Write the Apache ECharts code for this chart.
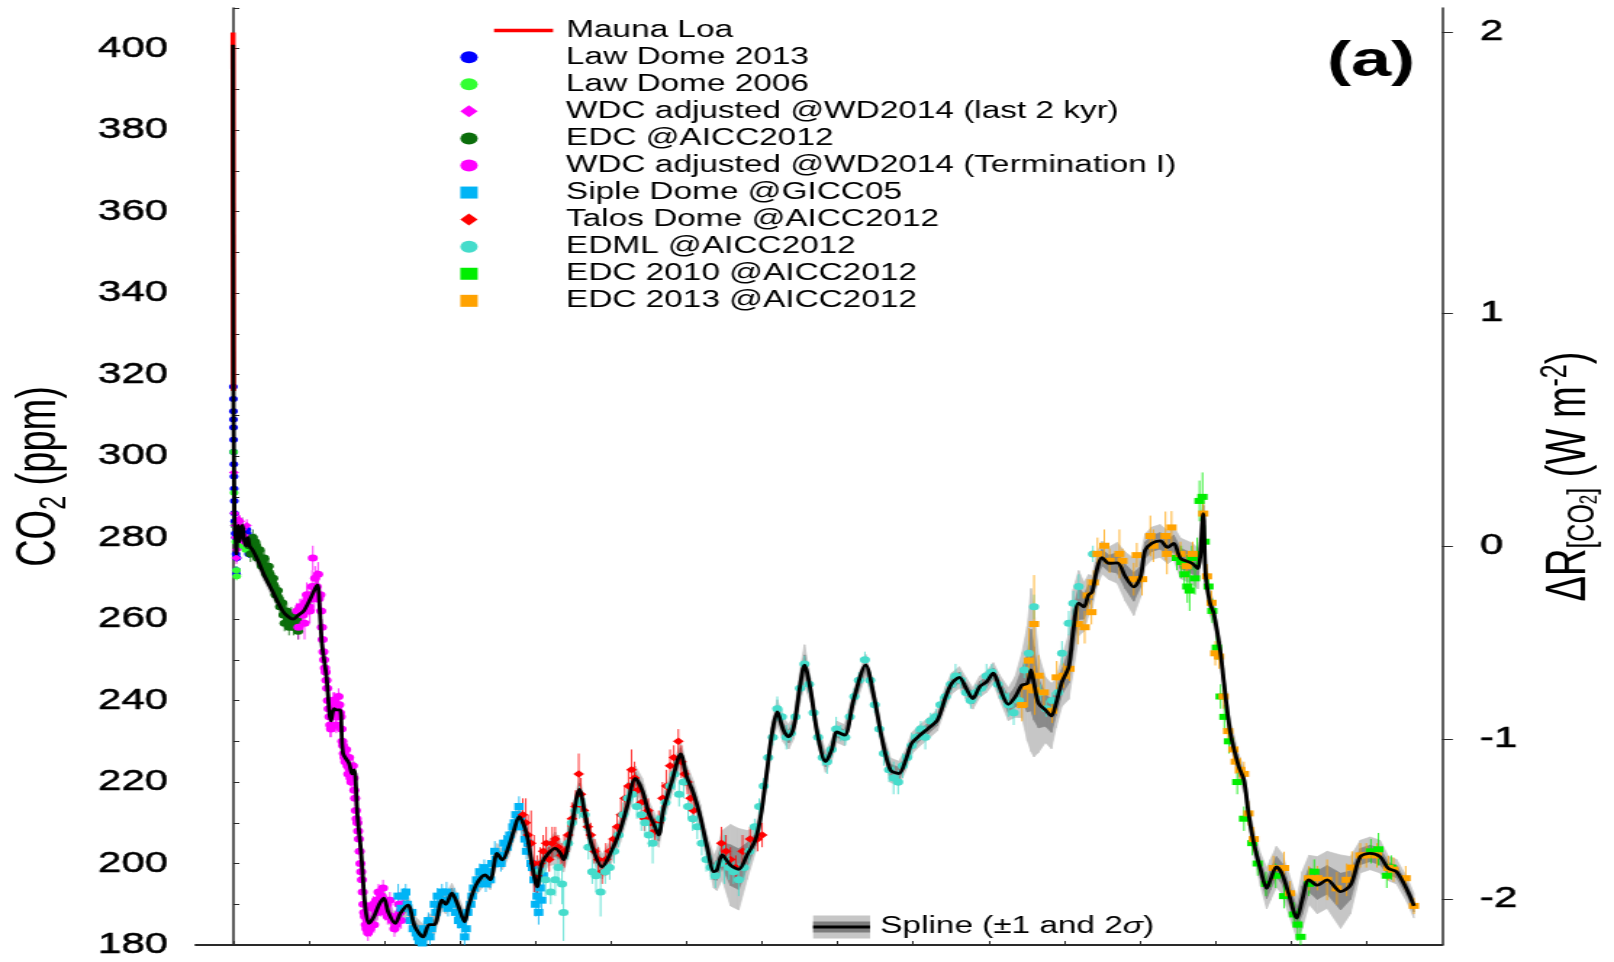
<!DOCTYPE html>
<html>
<head>
<meta charset="utf-8">
<script src="https://cdn.jsdelivr.net/npm/echarts@6/dist/echarts.min.js"></script>
<style>
html,body{margin:0;padding:0;background:#fff;overflow:hidden;}
#main{width:1113px;height:962px;transform:scaleX(1.45013);transform-origin:0 0;}
</style>
</head>
<body>
<div id="main"></div>
<script>
// ---------------- DATA (time in kyr BP, CO2 in ppm, third value = 1-sigma error) ----------------
const xTickValues = [0,10,20,30,40,50,60,70,80,90,100,110,120,130,140,150];
const rightTickLabels = [-2,-1,0,1,2];           // Delta R [W m-2]
const C0 = 278;                                   // reference CO2 of the right axis

const maunaLoa = [[-0.009,316],[-0.015,320],[-0.02,325.7],[-0.025,331],[-0.03,338.7],[-0.035,346],[-0.04,354.4],[-0.045,361],[-0.05,369.7],[-0.055,379.8],[-0.06,389.9],[-0.066,404]];

const lawDome2013 = [[-0.028,317,0.5],[-0.02,314,0.5],[-0.012,311,0.6],[-0.005,309,0.6],[0.0,307,0.6],[0.01,304,0.8],[0.02,301,0.8],[0.04,298,0.8],[0.06,295,0.9],[0.08,292,0.9],[0.1,289,1],[0.12,286,1],[0.15,284,1],[0.18,283,1],[0.22,281,1],[0.28,280,1],[0.33,276,1],[0.37,272,1],[0.4,271,1],[0.45,275,1],[0.5,279,1],[0.6,281,1],[0.7,280,1],[0.8,279,1],[0.9,279,1],[1.0,280,1],[1.1,279,1],[1.3,278,1],[1.5,278,1],[1.7,279,1],[1.75,282,1],[1.82,281,1],[1.9,277,1],[2.0,276,1]];

const lawDome2006 = [[0.02,301,1],[0.08,291,1],[0.16,283,1],[0.3,279,1],[0.38,272,1],[0.42,270.5,1],[0.6,280,1],[0.9,278,1],[1.2,279,1],[1.6,277,1],[1.85,280,1]];

const wdcLast2k = [[0.05,296,1.5],[0.12,286,1.5],[0.2,283,1.5],[0.3,280,1.5],[0.38,275,1.5],[0.45,277,1.5],[0.55,280,1.5],[0.65,284.5,1.5],[0.75,283,1.5],[0.85,284,1.5],[0.95,282,1.5],[1.05,281,1.5],[1.15,282,1.5],[1.25,280,1.5],[1.35,279,1.5],[1.45,280,1.5],[1.55,279,1.5],[1.65,280,1.5],[1.75,283,1.5],[1.85,280,1.5],[1.95,278,1.5]];

const edc = [[2.1,278,1.5],[2.25,276,2],[2.4,279,1.5],[2.55,280,2],[2.7,277,1.5],[2.85,279,2],[3.0,278,1.5],[3.15,275,2],[3.3,276,1.5],[3.45,277,2],[3.6,275,1.5],[3.75,273,2],[3.9,274,1.5],[4.05,275,2],[4.2,273,1.5],[4.35,271,2],[4.5,272,1.5],[4.65,273,2],[4.8,271,1.5],[4.95,270,2],[5.1,269,1.5],[5.25,270,2],[5.4,268,1.5],[5.55,266,2],[5.7,266,1.5],[5.85,267,2],[6.0,265,1.5],[6.15,263,2],[6.3,263,1.5],[6.45,264,2],[6.6,261,1.5],[6.75,259,2],[6.9,261,1.5],[7.05,262,2],[7.2,260,1.5],[7.35,258,2],[7.5,259,1.5],[7.65,261,2],[7.8,260,1.5],[7.95,258,2],[8.1,258,1.5],[8.25,261,2],[8.4,260,1.5],[8.55,257,2],[8.7,259,1.5]];

const wdcTI = [[8.4,262,2],[8.6,258,3],[8.8,263,2],[9.0,262,3],[9.2,261,3],[9.4,259,4],[9.5,264,2],[9.7,266,3],[9.8,265,3],[10.0,263,2],[10.1,262,3],[10.3,266,2],[10.4,268,4],[10.5,275,3],[10.7,265,3],[10.8,270,3],[11.0,268,4],[11.2,271,3],[11.3,265,3],[11.5,266,2],[11.6,262,2],[11.7,258,2],[11.8,255,2],[11.9,252,2],[12.0,250,3],[12.1,248,2],[12.2,247,2],[12.3,245,2],[12.4,243,2],[12.5,240,3],[12.6,238,2],[12.7,236,2],[12.8,234,3],[12.9,233,2],[13.0,236,2],[13.1,238,3],[13.2,240,2],[13.3,240,2],[13.4,239,3],[13.5,236,3],[13.6,234,2],[13.7,238,2],[13.8,237,2],[13.9,241,2],[14.0,239,3],[14.1,237,2],[14.2,236,2],[14.3,233,3],[14.4,230,2],[14.5,229,2],[14.6,227,2],[14.7,226,2],[14.8,225,2],[14.9,228,2],[15.0,226,2],[15.1,224,2],[15.2,222,2],[15.3,226,2],[15.4,223,2],[15.5,221,2],[15.6,220,2],[15.7,222,2],[15.8,224,2],[15.9,221,3],[16.0,218,2],[16.1,216,2],[16.2,213,2],[16.3,211,2],[16.4,210,2],[16.5,208,2],[16.6,206,2],[16.7,203,2],[16.8,200,2],[16.9,198,2],[17.0,196,2],[17.1,193,2],[17.2,190,2],[17.3,188,2],[17.4,187,2],[17.5,185,2],[17.6,184,2],[17.7,186,2],[17.8,183,2],[18.0,186,2],[18.1,184,2],[18.3,189,2],[18.5,190,2],[18.6,185,2],[18.9,191,2],[19.0,188,2],[19.2,193,2],[19.5,189,2],[19.6,192,2],[19.8,194,2],[20.1,188,2],[20.3,190,2],[20.4,187,2],[20.7,191,2],[20.9,187,3],[21.0,186,2],[21.3,184,2],[21.5,185,2],[21.6,187,2],[21.9,190,3],[22.0,188,2],[22.2,186,2],[22.4,190,2]];

const siple = [[21.8,192,3],[22.2,189,2],[22.6,192,2],[22.8,193,2],[23.0,190,2],[23.4,186,2],[23.6,188,2],[23.8,184,2],[24.2,183,2],[24.4,182,2],[24.6,181,2],[25.0,180.5,2],[25.2,184,2],[25.4,183,2],[25.8,186,2],[26.0,182,2],[26.2,184,2],[26.6,190,2],[26.8,188,2],[27.0,192,2],[27.4,190,2],[27.6,193,2],[27.8,191,2],[28.2,193,2.5],[28.4,189,2],[28.6,191,2],[29.0,190,2],[29.2,192,2],[29.4,188,2],[29.8,186,2],[30.0,187,2],[30.2,185,2],[30.6,182,2.5],[30.8,184,2],[31.0,188,2],[31.4,190,2],[31.6,192,2],[31.8,194,2],[32.2,196,2],[32.4,195,2],[32.6,198,2],[33.0,197,2],[33.2,199,2],[33.4,195,2],[33.8,198,2],[34.0,196,2],[34.2,200,2],[34.6,203,2.5],[34.8,201,2],[35.0,201,2],[35.4,200,2],[35.6,202,2],[35.8,205,2],[36.2,204,2],[36.4,206,2],[36.6,207,2],[37.0,209,2],[37.2,210,2],[37.4,212,2.5],[37.8,214,2.5],[38.0,211,2],[38.2,209,2],[38.6,206,2],[38.8,203,2],[39.0,205,2],[39.4,200,2],[39.6,199,2],[39.8,196,3],[40.0,190,3],[40.2,192,3],[40.4,188,3],[40.6,194,3],[40.8,191,3],[41.0,197,3]];

const talos = [[38.3,212,4],[38.7,210,6],[39.0,207,5],[39.4,205,8],[39.8,200,7],[40.2,197,5],[40.6,200,4],[41.0,203,4],[41.4,205,4],[41.8,201,3],[42.2,205,4],[42.6,206,3],[43.0,204,3],[43.4,202,3],[43.8,203,4],[44.3,207,3],[44.8,211,4],[45.3,214,4],[45.7,222,5],[46.0,217,4],[46.4,213,3],[46.9,209,3],[47.3,207,3],[47.8,203,3],[48.3,201,3],[48.8,198,3],[49.3,201,4],[49.8,203,3],[50.3,206,3],[50.8,209,3],[51.3,212,4],[51.8,216,3],[52.3,219,4],[52.7,223,5],[53.1,221,4],[53.5,218,3],[54.0,215,3],[54.4,211,3],[54.9,213,3],[55.3,210,3],[55.8,208,3],[56.3,210,3],[56.8,216,4],[57.3,219,4],[57.8,224,4],[58.3,226,3],[58.9,230,3],[59.3,225,4],[59.7,222,3],[60.1,220,3],[60.5,216,3],[60.9,213,3],[64.6,205,4],[65.2,203,4],[65.8,201,3],[66.5,199,3],[67.4,203,4],[68.4,206,3],[69.4,206,3],[70.0,207,3]];

const edml = [[40.5,198,3],[41.3,196,4],[42.0,193,3],[42.6,196,4],[43.0,199,3],[43.5,195,5],[43.7,188,7],[44.3,205,4],[44.8,210,3],[45.3,213,3],[45.8,215,4],[46.5,212,4],[47.0,204,3],[47.5,198,3],[48.0,197,4],[48.6,193,6],[49.2,198,3],[49.8,199,3],[50.4,203,3],[51.0,207,3],[51.6,212,3],[52.2,216,4],[52.8,217,3],[53.4,214,3],[54.0,212,4],[54.5,210,3],[55.0,207,3],[55.5,205,5],[56.1,209,3],[56.6,211,3],[57.2,215,3],[57.8,219,3],[58.4,222,4],[59.0,217,3],[59.6,220,4],[60.2,214,3],[60.8,211,3],[61.4,209,3],[62.0,205,3],[62.6,201,3],[63.2,199,3],[63.8,197,3],[64.4,200,3],[65.0,201,6],[65.6,199,3],[66.2,198,3],[66.9,196,4],[67.6,199,3],[68.3,203,3],[69.0,209,2],[69.6,214,2],[70.2,219,2],[70.8,226,2],[71.4,231,2],[72.0,238,3],[72.6,236,2],[73.2,231,3],[73.8,232,2],[74.4,236,2],[75.0,243,2],[75.6,249,2],[76.2,244,2],[76.8,237,2],[77.4,231,2],[78.0,226,2],[78.6,225,3],[79.2,228,2],[79.8,233,3],[80.4,232,2],[81.0,231,2],[81.6,236,2],[82.2,241,2],[82.8,245,2],[83.6,250,2],[84.3,245,2],[84.9,239,2],[85.5,233,2],[86.1,227,3],[86.8,223,3],[87.4,221,4],[88.0,220,3],[88.6,224,3],[89.2,226,2],[89.8,229,3],[90.4,231,2],[91.0,233,2],[91.6,231,3],[92.3,235,2],[93.0,236,2],[93.6,239,2],[94.3,241,2],[95.0,244,2],[95.6,246,3],[96.3,245,2],[97.0,242,2],[97.6,240,2],[98.3,242,2],[99.0,243,2],[99.7,246,3],[100.4,247,2],[101.2,244,2],[102.0,241,2],[102.6,239,3],[103.3,237,3],[104.0,240,2],[104.7,247.5,2],[105.3,251.6,3],[106.0,263,3],[106.8,242,2],[107.6,238,2],[108.4,240,2],[109.2,242,2],[109.7,251.6,3],[110.6,259,3],[111.2,263.9,3],[111.9,268,3],[113.8,276,2]];

const edc2010 = [[124.9,275,3],[125.5,274,4],[125.9,271,3],[126.3,268,4],[126.6,267,5],[126.9,275,3],[127.3,270,4],[127.6,276,4],[127.9,289,5],[128.3,290,6],[128.6,279,4],[129.1,268,3],[129.6,262,3],[130.2,253,3],[130.7,241,3],[131.2,236,3],[131.8,230,3],[132.9,220,3],[133.8,211,3],[134.9,205,3],[135.6,200,3],[136.7,195,3],[138.0,197,3],[139.1,192,3],[140.4,187.5,3],[140.9,185,4],[141.3,182,4],[142.4,195,3],[143.1,198,3],[150.6,203,3],[151.6,203.5,4],[152.7,197,3],[153.3,199,3]];

const edc2013 = [[104.4,238.9,4],[105.1,243.4,5],[105.3,249.8,8],[106.0,258.8,12],[106.1,242.5,6],[106.6,246.1,5],[107.3,242,4],[108.4,237.5,3],[109.0,245.7,4],[109.9,246.1,3],[110.7,247.8,3],[111.8,258.8,5],[112.7,258,4],[113.1,265.8,4],[113.6,261.7,3],[113.9,269,3],[114.4,276,4],[115.3,278,4],[116.0,274.3,3],[117.3,276,6],[117.7,274.3,3],[119.2,269.8,4],[119.6,275.7,3],[120.3,269.8,4],[121.4,280.4,5],[121.8,278,4],[123.4,280.4,6],[123.6,276,5],[124.2,282.5,4],[125.4,276,3],[126.2,273,3],[127.0,276,3],[128.4,285.9,3],[128.9,270.5,3],[129.5,264,3],[130.0,251.6,3],[130.5,250.8,3],[131.1,241,3],[131.7,232.5,3],[132.4,228,3],[132.7,225,3],[133.3,223,3],[133.8,222,3],[134.4,212.3,3],[135.1,206,3],[137.7,198.9,3],[139.1,198.9,4],[139.9,192.7,3],[142.4,196.4,3],[143.5,196.4,3],[144.8,196,5],[146.1,193.9,4],[147.4,196,4],[148.1,199,4],[149.2,202,3],[150.0,202,3],[151.4,202,3],[152.9,198.9,3],[153.6,198.5,3],[155.2,196.4,3],[156.3,189.6,2]];

// smoothing spline [t, CO2, 1-sigma]
const spline = [[-0.066,401,0.8],[-0.06,389.9,0.8],[-0.05,369.7,0.8],[-0.04,354.4,0.8],[-0.03,338.7,0.8],[-0.02,325.7,0.8],[-0.01,317,0.8],[0.0,311,0.8],[0.03,304,0.8],[0.06,297,0.8],[0.1,289,0.8],[0.15,283,0.8],[0.25,281,1],[0.37,276,1],[0.5,281,1],[0.65,283,1],[0.8,279,1],[1.0,282,1],[1.2,283,1],[1.45,279,1],[1.7,278,1],[1.9,280,1.2],[2.1,278,1.2],[2.5,277,1],[3.2,274.5,0.8],[4.0,271,0.8],[5.1,267,0.8],[6.5,262,0.8],[7.3,260.5,0.8],[7.9,260,0.8],[8.6,261,0.8],[9.3,262,0.8],[10.3,265.5,1],[11.1,268.4,1],[11.4,263,1],[11.7,254,1],[12.3,246,1],[12.9,235,1],[13.3,238,1],[13.6,237.7,1],[14.1,237.7,1],[14.5,227,1],[15.3,224.6,1],[15.7,222,1],[16.0,223,1],[16.4,212,1],[16.9,202.5,1],[17.4,190,1],[17.9,185.3,1.2],[18.6,187,1.2],[19.3,190,1.2],[19.9,191.5,1.2],[20.5,188,1.2],[21.4,185.3,1.2],[22.1,187.8,1.2],[23.1,189.8,1.2],[24.0,184.5,1.3],[25.1,182,1.5],[25.9,185,1.3],[26.6,185,1.2],[27.6,191,1.2],[28.1,190,1.2],[28.9,192.7,1.2],[29.7,189.8,1.2],[30.6,185.7,1.2],[31.1,189.4,1.2],[32.1,194.7,1.2],[33.3,197.2,1.2],[34.0,196,1.2],[34.9,202.5,1.2],[35.6,200.9,1.2],[36.4,204,1.2],[37.1,208,1.2],[37.8,211.5,1.3],[38.8,207.4,1.3],[39.5,200,1.5],[40.2,194.3,2],[40.8,200,1.5],[41.7,202.5,1.5],[42.6,203.7,2],[43.3,202.5,1.5],[43.7,200.9,1.5],[44.6,207.4,2],[45.8,218.2,1.5],[46.6,211.5,1.5],[47.5,204.1,1.5],[48.8,199.2,1.5],[49.9,202.5,1.5],[51.2,208.2,1.5],[52.1,213.9,1.5],[53.2,220.9,1.5],[54.1,218,1.5],[55.0,212.3,1.5],[55.6,209.9,1.5],[56.3,207,1.5],[56.9,213.1,1.5],[58.1,220.5,1.5],[59.2,226.9,1.5],[60.0,221.3,1.5],[60.9,217.2,1.5],[61.8,211.5,1.5],[62.7,204.1,1.5],[63.6,198,2],[64.0,198.4,2.5],[64.7,202.1,3],[65.8,199.6,5],[66.9,198.6,5],[68.0,202.1,3],[69.1,205.8,1.5],[69.8,211.5,1.5],[70.6,222.1,1.5],[71.3,231.9,1.5],[72.0,237.2,1.5],[72.8,232.8,1.5],[73.5,231.1,1.5],[74.2,233.6,1.5],[75.0,243.4,2],[75.6,248.7,2.5],[76.4,242.6,1.5],[77.3,231.9,1.3],[78.4,225,1.3],[79.2,227.9,1.3],[79.9,232.3,1.3],[80.9,231.5,1.3],[82.1,240.1,1.3],[83.7,248.7,1.3],[84.8,240.9,1.3],[85.9,230.3,1.3],[87.0,222.9,1.5],[88.1,222.1,1.5],[89.0,225.4,1.3],[89.8,229.5,1.3],[90.9,231.5,1.3],[92.0,233.2,1.3],[93.2,235.2,1.3],[94.3,240.9,1.3],[95.1,244.2,1.3],[96.1,245.7,1.3],[97.0,243,1.3],[97.9,240.5,1.3],[98.8,243.4,1.3],[99.7,244.6,1.3],[100.6,246.7,1.3],[101.4,243.4,1.5],[102.6,239.1,2],[103.5,240.9,2.5],[104.4,243.8,4],[105.1,244.2,7],[105.6,247.5,10],[106.0,244.2,9],[106.6,239.3,6],[107.5,237.7,4],[108.3,236.2,4],[108.9,239.3,3],[109.7,244.6,3],[110.6,248.3,4],[111.2,257.3,5],[111.9,263.9,4],[112.6,263,3],[113.2,265.9,2.5],[113.7,266.7,2],[114.3,272,2],[115.0,275.1,2],[115.9,273.7,2],[117.0,273.8,2.5],[118.1,270.4,3],[119.2,267.9,3.5],[120.1,270.4,2.5],[120.7,276.9,2],[121.6,278.6,2],[122.7,279.2,2],[123.7,277.6,2],[124.5,278.6,2],[125.4,274.9,2.5],[126.9,273.7,2.5],[127.7,272.4,2.5],[128.4,285.9,2],[128.7,271.2,2],[129.3,263.9,1.5],[129.8,261.4,1.5],[130.7,251.6,1.5],[131.1,245,1.5],[132.0,232,1.5],[133.1,223.8,1.5],[133.8,220.5,1.5],[134.4,212.3,1.5],[135.1,205,1.5],[136.0,198.4,2],[136.8,193.9,2.5],[137.3,196,2.5],[138.1,199.2,2.5],[138.8,197.6,2.5],[139.7,192.7,2.5],[140.8,186.6,2.5],[141.5,191,3.5],[142.4,196,3],[143.5,194.7,3.5],[144.8,196,3.5],[146.6,193.1,4.5],[147.9,194.7,3.5],[149.2,201.7,2],[150.5,202.5,2],[151.8,201.7,2],[152.9,198.8,1.5],[154.0,198,1.5],[155.4,193.5,1.5],[156.3,189.6,1.5]];

// ---------------- CHART ----------------
const F = '"Liberation Sans", Arial, Helvetica, sans-serif';
const rightTickCO2 = rightTickLabels.map(r => C0 * Math.exp(r / 5.35));
const splineLabel = '{g| }Spline (\u00B11 and 2{i|\u03C3})';

function bandData(k) {
  const out = [];
  for (let i = 0; i < spline.length - 1; i++) {
    const a = spline[i], b = spline[i + 1];
    out.push([a[0], a[1] - k * a[2], a[1] + k * a[2], b[0], b[1] - k * b[2], b[1] + k * b[2]]);
  }
  return out;
}
function bandSeries(name, k, color) {
  return {
    name: name, type: 'custom', clip: true, silent: true, z: 1,
    itemStyle: {color: color},
    encode: {x: [0, 3], y: [1, 2, 4, 5]},
    data: bandData(k),
    renderItem: function (params, api) {
      const p1 = api.coord([api.value(0), api.value(1)]);
      const p2 = api.coord([api.value(3), api.value(4)]);
      const p3 = api.coord([api.value(3), api.value(5)]);
      const p4 = api.coord([api.value(0), api.value(2)]);
      return {type: 'polygon', shape: {points: [p1, p2, p3, p4]}, style: {fill: color, stroke: color, lineWidth: 0.7}};
    }
  };
}
function errSeries(data, color) {
  return {
    type: 'custom', clip: true, silent: true, z: 2,
    encode: {x: 0, y: [1, 2]},
    data: data.map(d => [d[0], d[1] - d[2], d[1] + d[2]]),
    renderItem: function (params, api) {
      const a = api.coord([api.value(0), api.value(1)]);
      const b = api.coord([api.value(0), api.value(2)]);
      return {type: 'line', shape: {x1: a[0], y1: a[1], x2: b[0], y2: b[1]}, style: {stroke: color, lineWidth: 0.8}};
    }
  };
}
function scatter(name, data, symbol, size, color) {
  return {name: name, type: 'scatter', data: data, symbol: symbol, symbolSize: size,
          itemStyle: {color: color, opacity: 1}, z: 3, silent: true};
}

const sets = [
  ['Law Dome 2013', lawDome2013, 'circle', 6, '#0000ff'],
  ['Law Dome 2006', lawDome2006, 'circle', 6, '#33ff33'],
  ['WDC adjusted @WD2014 (last 2 kyr)', wdcLast2k, 'diamond', [7, 7], '#ff00ff'],
  ['EDC @AICC2012', edc, 'circle', 7, '#0b6e0b'],
  ['WDC adjusted @WD2014 (Termination I)', wdcTI, 'circle', 7, '#ff00ff'],
  ['Siple Dome @GICC05', siple, 'rect', [6.5, 7], '#00b4f5'],
  ['Talos Dome @AICC2012', talos, 'diamond', [7.5, 7.5], '#ff0000'],
  ['EDML @AICC2012', edml, 'circle', 7, '#45dccb'],
  ['EDC 2010 @AICC2012', edc2010, 'rect', [7, 6], '#00ee00'],
  ['EDC 2013 @AICC2012', edc2013, 'rect', [7, 6], '#ffa200']
];

const series = [
  bandSeries('Spline 2s band', 2, '#c6c6c6'),
  bandSeries('Spline 1s band', 1, '#8a8a8a')
];
sets.forEach(s => series.push(errSeries(s[1], s[4])));
sets.forEach(s => series.push(scatter(s[0], s[1], s[2], s[3], s[4])));
series.push({name: 'Mauna Loa', type: 'line', data: maunaLoa, symbol: 'none', showSymbol: false, z: 4,
             lineStyle: {color: '#ff0000', width: 3.5}, itemStyle: {color: '#ff0000'}, silent: true});
series.push({name: 'Spline (\u00B11 and 2\u03C3)', type: 'line', data: spline.map(d => [d[0], d[1]]),
             symbol: 'none', smooth: 0.3, z: 5, silent: true,
             lineStyle: {color: '#000', width: 2.8}, itemStyle: {color: '#000'}});

const legendText = {fontFamily: F, fontSize: 23, lineHeight: 27, color: '#000'};
const axisLineStyle = {color: '#2a2a2a', width: 1.5};
const tickLabelStyle = {fontFamily: F, fontSize: 29, color: '#000', textBorderColor: '#000', textBorderWidth: 0.5, padding: [7, 0, 0, 0]};

const option = {
  animation: false,
  backgroundColor: '#fff',
  textStyle: {fontFamily: F},
  title: {text: '(a)', right: 137, top: 37, padding: 0,
          textStyle: {fontFamily: F, fontSize: 50, fontWeight: 'bold', color: '#000', lineHeight: 50}},
  grid: {left: 135, right: 118.7, top: 8, bottom: 17, containLabel: false, outerBoundsMode: 'none'},
  xAxis: {
    type: 'value', min: -5, max: 160,
    axisLine: {show: true, lineStyle: {color: '#2a2a2a', width: 2}},
    axisTick: {show: true, inside: true, length: 4, customValues: xTickValues, lineStyle: {color: '#2a2a2a', width: 1}},
    axisLabel: {show: false}, splitLine: {show: false}
  },
  yAxis: [
    {
      type: 'value', min: 180, max: 410, interval: 10, position: 'left',
      axisLine: {show: true, lineStyle: axisLineStyle},
      axisTick: {show: true, inside: true, length: 4, lineStyle: {color: '#2a2a2a', width: 1}},
      axisLabel: Object.assign({margin: 19, formatter: v => (v % 20 === 0 && v <= 400) ? String(v) : ''}, tickLabelStyle),
      splitLine: {show: false},
      name: '{a|CO}{s|2}{a| (ppm)}', nameLocation: 'middle', nameRotate: 90, nameGap: 84,
      nameTextStyle: {fontFamily: F, color: '#000',
        rich: {a: {fontFamily: F, fontSize: 38, lineHeight: 46, color: '#000'},
               s: {fontFamily: F, fontSize: 25, lineHeight: 25, verticalAlign: 'bottom', color: '#000'}}}
    },
    {
      type: 'value', min: 180, max: 410, position: 'right',
      axisLine: {show: true, lineStyle: axisLineStyle},
      axisTick: {show: true, inside: false, length: 7.6, customValues: rightTickCO2, lineStyle: {color: '#2a2a2a', width: 1}},
      axisLabel: Object.assign({margin: 26.2, customValues: rightTickCO2,
                  formatter: v => String(Math.round(5.35 * Math.log(v / C0)))}, tickLabelStyle),
      splitLine: {show: false},
      name: '{a|\u0394R}{s|[CO}{ss|2}{s|]}{a| (W m}{sup|-2}{a|)}', nameLocation: 'middle', nameRotate: 90, nameGap: 66.5,
      nameTextStyle: {fontFamily: F, color: '#000',
        rich: {a: {fontFamily: F, fontSize: 38, lineHeight: 44, color: '#000'},
               s: {fontFamily: F, fontSize: 25, lineHeight: 25, verticalAlign: 'bottom', color: '#000'},
               ss: {fontFamily: F, fontSize: 17, lineHeight: 17, verticalAlign: 'bottom', color: '#000'},
               sup: {fontFamily: F, fontSize: 25, lineHeight: 25, verticalAlign: 'top', color: '#000'}}}
    }
  ],
  legend: [
    {id: 'ml', data: ['Mauna Loa'], orient: 'vertical', left: 340.7, top: 16.9, padding: 0,
     itemWidth: 40.7, itemHeight: 3.5, icon: 'rect', itemStyle: {color: '#ff0000'}, itemGap: 0, selectedMode: false,
     formatter: n => '{g| }' + n,
     textStyle: Object.assign({}, legendText, {rich: {g: {width: 4}}})},
    {id: 'pts', data: sets.map(s => s[0]), orient: 'vertical', left: 317.4, top: 43.7, padding: 0,
     itemWidth: 12, itemHeight: 12, itemGap: 0.07, selectedMode: false,
     formatter: n => '{g| }' + n,
     textStyle: Object.assign({}, legendText, {rich: {g: {width: 55.9}}})},
    {id: 'b2', data: ['Spline 2s band'], left: 560.7, top: 913.5, padding: 0, z: 5,
     itemWidth: 39.3, itemHeight: 23, icon: 'rect', itemStyle: {color: '#c6c6c6'}, selectedMode: false,
     formatter: () => splineLabel,
     textStyle: Object.assign({}, legendText, {color: 'rgba(0,0,0,0)', rich: {g: {width: 2, color: 'rgba(0,0,0,0)'}, i: {fontStyle: 'italic', color: 'rgba(0,0,0,0)'}}})},
    {id: 'b1', data: ['Spline 1s band'], left: 560.7, top: 913.5, padding: 0, z: 6,
     itemWidth: 39.3, itemHeight: 11, icon: 'rect', itemStyle: {color: '#7c7c7c'}, selectedMode: false,
     formatter: () => splineLabel,
     textStyle: Object.assign({}, legendText, {color: 'rgba(0,0,0,0)', rich: {g: {width: 2, color: 'rgba(0,0,0,0)'}, i: {fontStyle: 'italic', color: 'rgba(0,0,0,0)'}}})},
    {id: 'sp', data: ['Spline (\u00B11 and 2\u03C3)'], left: 560.7, top: 913.5, padding: 0, z: 7,
     itemWidth: 39.3, itemHeight: 3, icon: 'rect', itemStyle: {color: '#000'}, selectedMode: false,
     formatter: () => splineLabel,
     textStyle: Object.assign({}, legendText, {rich: {g: {width: 2}, i: {fontStyle: 'italic', fontFamily: F, fontSize: 23, color: '#000'}}})}
  ],
  series: series
};

const chart = echarts.init(document.getElementById('main'), null, {renderer: 'canvas'});
chart.setOption(option);
</script>
</body>
</html>
